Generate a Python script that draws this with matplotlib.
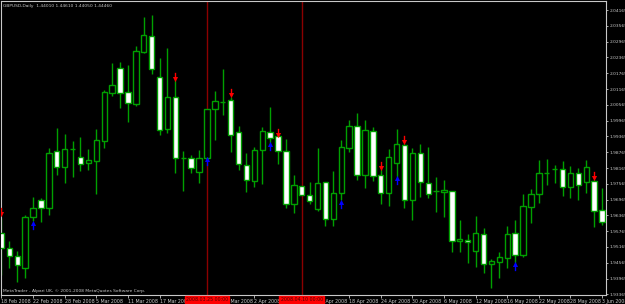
import numpy as np
import matplotlib
matplotlib.use("Agg")
import matplotlib.pyplot as plt
from matplotlib.path import Path

plt.rcParams["font.family"] = ["Liberation Sans Narrow", "DejaVu Sans"]

# GBPUSD daily bars, 18 Feb 2008 .. 3 Jun 2008
OPEN = [1.9570, 1.9513, 1.9482, 1.9437, 1.9630, 1.9695, 1.9665, 1.9881, 1.9820, 1.9889,
        1.9858, 1.9836, 1.9843, 1.9919, 2.0102, 2.0197, 2.0105, 2.0060, 2.0257, 2.0318,
        2.0162, 1.9965, 2.0086, 1.9855, 1.9855, 1.9801, 1.9855, 2.0041, 2.0067, 2.0075,
        1.9953, 1.9828, 1.9767, 1.9885, 1.9953, 1.9938, 1.9881, 1.9680, 1.9748, 1.9714,
        1.9661, 1.9763, 1.9623, 1.9722, 1.9893, 1.9976, 1.9790, 1.9957, 1.9790, 1.9722,
        1.9836, 1.9904, 1.9695, 1.9874, 1.9760, 1.9729, 1.9725, 1.9729, 1.9539, 1.9543,
        1.9501, 1.9566, 1.9452, 1.9459, 1.9475, 1.9570, 1.9486, 1.9668, 1.9718, 1.9798,
        1.9813, 1.9813, 1.9744, 1.9798, 1.9763, 1.9767, 1.9657]
HIGH = [1.9627, 1.9539, 1.9501, 1.9638, 1.9706, 1.9703, 1.9893, 1.9969, 1.9946, 1.9919,
        1.9934, 1.9889, 1.9965, 2.0113, 2.0216, 2.0219, 2.0208, 2.0280, 2.0390, 2.0398,
        2.0235, 2.0273, 2.0151, 1.9881, 1.9866, 1.9885, 2.0041, 2.0109, 2.0193, 2.0086,
        1.9976, 1.9874, 1.9896, 1.9972, 2.0048, 1.9938, 1.9927, 1.9790, 1.9748, 1.9763,
        1.9893, 1.9763, 1.9805, 1.9923, 1.9999, 2.0026, 1.9999, 1.9972, 1.9813, 1.9889,
        1.9965, 1.9908, 1.9893, 1.9908, 1.9896, 1.9782, 1.9771, 1.9729, 1.9619, 1.9566,
        1.9634, 1.9589, 1.9471, 1.9497, 1.9596, 1.9619, 1.9718, 1.9737, 1.9847, 1.9851,
        1.9828, 1.9843, 1.9824, 1.9817, 1.9847, 1.9771, 1.9741]
LOW = [1.9410, 1.9437, 1.9383, 1.9399, 1.9615, 1.9611, 1.9638, 1.9790, 1.9760, 1.9782,
       1.9805, 1.9809, 1.9718, 1.9893, 2.0090, 2.0045, 1.9991, 2.0052, 2.0254, 2.0174,
       1.9942, 1.9950, 1.9798, 1.9729, 1.9798, 1.9760, 1.9851, 1.9923, 2.0018, 1.9877,
       1.9809, 1.9725, 1.9744, 1.9756, 1.9912, 1.9832, 1.9665, 1.9646, 1.9714, 1.9680,
       1.9653, 1.9596, 1.9596, 1.9695, 1.9877, 1.9771, 1.9741, 1.9767, 1.9680, 1.9672,
       1.9782, 1.9665, 1.9619, 1.9706, 1.9703, 1.9649, 1.9630, 1.9497, 1.9497, 1.9456,
       1.9440, 1.9418, 1.9361, 1.9399, 1.9437, 1.9456, 1.9478, 1.9608, 1.9684, 1.9752,
       1.9760, 1.9710, 1.9703, 1.9695, 1.9722, 1.9592, 1.9600]
CLOSE = [1.9513, 1.9482, 1.9448, 1.9630, 1.9665, 1.9665, 1.9874, 1.9820, 1.9889, 1.9889,
         1.9832, 1.9847, 1.9923, 2.0105, 2.0132, 2.0102, 2.0064, 2.0261, 2.0322, 2.0193,
         1.9961, 2.0086, 1.9855, 1.9855, 1.9817, 1.9855, 2.0041, 2.0071, 2.0067, 1.9942,
         1.9832, 1.9771, 1.9885, 1.9957, 1.9931, 1.9881, 1.9680, 1.9752, 1.9714, 1.9691,
         1.9760, 1.9623, 1.9722, 1.9896, 1.9976, 1.9790, 1.9961, 1.9786, 1.9722, 1.9858,
         1.9908, 1.9695, 1.9874, 1.9763, 1.9718, 1.9729, 1.9733, 1.9539, 1.9547, 1.9535,
         1.9570, 1.9452, 1.9463, 1.9478, 1.9566, 1.9486, 1.9672, 1.9718, 1.9798, 1.9798,
         1.9813, 1.9744, 1.9798, 1.9752, 1.9820, 1.9653, 1.9611]

# fractal arrows
UP_FRACTAL_BARS = [0, 22, 29, 35, 48, 51, 75]
UP_FRACTAL_VALS = [1.9649, 2.0162, 2.0102, 1.9950, 1.9824, 1.9923, 1.9786]
DN_FRACTAL_BARS = [4, 26, 34, 43, 50, 65]
DN_FRACTAL_VALS = [1.9600, 1.9843, 1.9900, 1.9680, 1.9771, 1.9444]

DATE_LABELS = ["18 Feb 2008", "22 Feb 2008", "28 Feb 2008", "5 Mar 2008", "11 Mar 2008",
               "17 Mar 2008", "21 Mar 2008", "27 Mar 2008", "2 Apr 2008", "8 Apr 2008",
               "14 Apr 2008", "18 Apr 2008", "24 Apr 2008", "30 Apr 2008", "6 May 2008",
               "12 May 2008", "16 May 2008", "22 May 2008", "28 May 2008", "3 Jun 2008"]
PRICE_TICKS = [2.04165 - 0.006 * k for k in range(19)]

VLINE_BARS = [26, 38]
VLINE_LABELS = ["2008.03.25 00:00", "2008.04.10 00:00"]

GREEN = "#00a000"
FG = "#c8c8c8"

def arrow_path(up):
    v = [(-0.15, 1), (0.15, 1), (0.15, 0.1), (0.55, 0.1), (0, -1), (-0.55, 0.1), (-0.15, 0.1), (-0.15, 1)]
    if up:
        v = [(x, -y) for x, y in v]
    codes = [Path.MOVETO] + [Path.LINETO] * 6 + [Path.CLOSEPOLY]
    return Path(v, codes)

def main():
    o = np.array(OPEN)
    h = np.array(HIGH)
    l = np.array(LOW)
    c = np.array(CLOSE)
    x = np.arange(len(o))

    fig = plt.figure(figsize=(6.25, 3.04), dpi=100, facecolor="black")
    ax = fig.add_axes([1 / 625, 9 / 304, 605 / 625, 294 / 304], facecolor="black")

    # wicks
    ax.vlines(x, l, h, color=GREEN, lw=1.0, zorder=2)

    # bodies: bull = black with green outline, bear = white with green outline
    bull = c > o
    bear = c < o
    doji = c == o
    ax.bar(x[bull], (c - o)[bull], bottom=o[bull], width=0.68, facecolor="black",
           edgecolor=GREEN, lw=1.0, zorder=3)
    ax.bar(x[bear], (o - c)[bear], bottom=c[bear], width=0.68, facecolor="white",
           edgecolor=GREEN, lw=1.0, zorder=3)
    ax.hlines(o[doji], x[doji] - 0.34, x[doji] + 0.34, color=GREEN, lw=1.0, zorder=3)

    # fractals
    ax.scatter(UP_FRACTAL_BARS, UP_FRACTAL_VALS, marker=arrow_path(False), s=45,
               color="red", lw=0, zorder=4)
    ax.scatter(DN_FRACTAL_BARS, DN_FRACTAL_VALS, marker=arrow_path(True), s=45,
               color="blue", lw=0, zorder=4)

    # vertical lines
    for b, lab in zip(VLINE_BARS, VLINE_LABELS):
        ax.axvline(b, color="#8b0000", lw=1.0, zorder=1)
        ax.text(b, -0.008, lab, transform=ax.get_xaxis_transform(), ha="center", va="top",
                fontsize=3.4, color="#500000", clip_on=False, zorder=10,
                bbox=dict(boxstyle="square,pad=0.25", fc="red", ec="red"))

    ax.set_xlim(-0.06, 76.5)
    ax.set_ylim(1.9334, 2.0451)

    ax.yaxis.tick_right()
    ax.set_yticks(PRICE_TICKS)
    ax.set_yticklabels(["%.5f" % v for v in PRICE_TICKS])
    ax.set_xticks(np.arange(0, 77, 4))
    ax.set_xticklabels(DATE_LABELS, ha="left")
    ax.tick_params(axis="y", colors=FG, labelsize=3.2, length=1.5, width=0.6, pad=0.8)
    ax.tick_params(axis="x", colors=FG, labelsize=3.4, length=2, width=0.6, pad=1.0)
    for s in ax.spines.values():
        s.set_color(FG)
        s.set_linewidth(0.8)

    ax.text(0.004, 0.99, "GBPUSD,Daily  1.44010 1.44610 1.44050 1.44460", transform=ax.transAxes,
            ha="left", va="top", fontsize=3.2, color=FG)
    ax.text(0.004, 0.008, "MetaTrader - Alpari UK, \u00a9 2001-2008 MetaQuotes Software Corp.",
            transform=ax.transAxes, ha="left", va="bottom", fontsize=3.2, color=FG)

    fig.savefig("out.png", dpi=100, facecolor="black")

main()
